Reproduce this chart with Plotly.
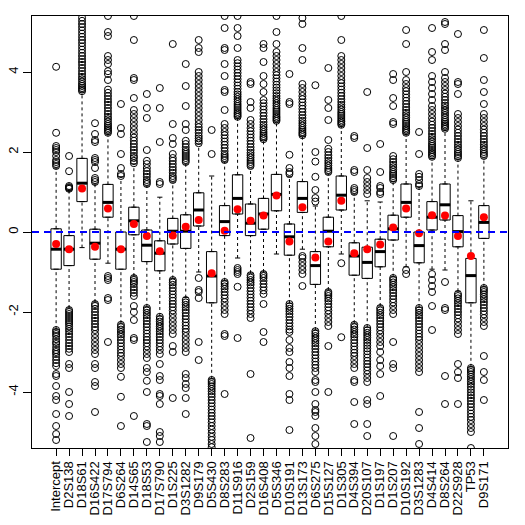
import plotly.graph_objects as go

markers = ["Intercept", "D2S138", "D18S61", "D16S422", "D17S794", "D6S264", "D14S65",
           "D18S53", "D17S790", "D1S225", "D3S1282", "D9S179", "D5S430", "D8S283",
           "D11S916", "D2S159", "D16S408", "D5S346", "D10S191", "D13S173", "D6S275",
           "D15S127", "D1S305", "D4S394", "D20S107", "D1S197", "D1S207", "D10S192",
           "D3S1283", "D4S414", "D8S264", "D22S928", "TP53", "D9S171"]

q1 = [-0.93, -0.84, 0.76, -0.68, 0.37, -0.93, -0.07, -0.74, -0.97, -0.30, -0.41, 0.15,
      -1.77, -0.09, 0.45, -0.09, 0.07, 0.53, -0.58, 0.49, -1.31, -0.37, 0.55, -1.08,
      -1.16, -0.87, -0.20, 0.37, -0.77, 0.05, 0.30, -0.37, -1.77, -0.16]
median = [-0.43, -0.43, 1.22, -0.28, 0.74, -0.43, 0.28, -0.33, -0.53, 0.02, 0.02, 0.55,
          -1.10, 0.26, 0.84, 0.22, 0.45, 0.94, -0.12, 0.84, -0.84, 0.02, 0.92, -0.60,
          -0.76, -0.49, 0.08, 0.74, -0.34, 0.37, 0.68, 0.01, -1.09, 0.24]
q3 = [0.08, -0.09, 1.84, 0.07, 1.19, 0.00, 0.62, 0.05, -0.22, 0.34, 0.43, 0.98,
      -0.49, 0.66, 1.43, 0.70, 0.84, 1.44, 0.20, 1.26, -0.49, 0.37, 1.40, -0.27,
      -0.38, -0.18, 0.42, 1.20, 0.00, 0.76, 1.20, 0.41, -0.66, 0.66]
whisker_lo = [-2.43, -1.90, -0.39, -1.75, -0.78, -2.28, -1.10, -1.87, -2.10, -1.16, -1.64, -1.00,
              -3.67, -1.22, -0.65, -1.03, -1.00, -0.55, -1.78, -0.43, -2.45, -1.45, -0.55, -2.28,
              -2.38, -1.85, -1.12, -0.87, -1.88, -0.93, -0.95, -1.48, -3.37, -1.37]
whisker_hi = [1.60, 1.05, 3.50, 1.20, 2.45, 1.38, 1.70, 1.15, 0.87, 1.25, 1.70, 2.20,
              1.40, 1.75, 2.85, 1.60, 2.30, 2.75, 1.38, 2.40, 0.65, 1.45, 2.65, 0.95,
              0.78, 0.75, 1.26, 2.45, 1.13, 1.84, 2.55, 1.82, 0.78, 1.85]
means = [-0.30, -0.43, 1.09, -0.37, 0.59, -0.43, 0.20, -0.10, -0.48, -0.09, 0.13, 0.30,
         -1.03, 0.03, 0.57, 0.28, 0.41, 0.91, -0.24, 0.62, -0.64, -0.24, 0.78, -0.53,
         -0.43, -0.31, 0.11, 0.59, -0.03, 0.42, 0.41, -0.10, -0.60, 0.37]

outliers_hi = [
    [1.65, 1.7, 1.75, 1.8, 1.9, 2.0, 2.05, 2.1, 2.15, 2.48, 4.13],
    [1.08, 1.1, 1.12, 1.15, 1.52, 1.9],
    [3.52, 3.56, 3.6, 3.65, 3.7, 3.76, 3.82, 3.88, 3.95, 4.02, 4.1, 4.18, 4.25, 4.32, 4.4,
     4.48, 4.56, 4.64, 4.72, 4.8, 4.88, 4.96, 5.04, 5.12, 5.2, 5.28, 5.36],
    [1.25, 1.3, 1.35, 1.6, 1.75, 1.8, 1.85, 2.25, 2.3, 2.45, 2.72],
    [2.48, 2.52, 2.56, 2.6, 2.65, 2.7, 2.76, 2.82, 2.88, 2.95, 3.02, 3.1, 3.18, 3.25, 3.32,
     3.4, 3.48, 3.56, 3.8, 3.95, 4.02, 4.2, 4.3, 4.4, 4.9, 5.0, 5.4],
    [1.4, 1.45, 1.6, 1.95, 2.45, 2.6, 3.2],
    [1.72, 1.78, 1.85, 1.9, 1.98, 2.05, 2.12, 2.2, 2.28, 2.36, 2.45, 2.55, 2.65, 2.75, 2.85,
     2.95, 3.05, 3.35, 3.8, 3.85, 4.8, 5.4],
    [1.2, 1.25, 1.3, 1.38, 1.45, 1.52, 1.6, 1.7, 1.78, 2.05, 2.85, 3.1, 3.45],
    [1.2, 1.25, 2.25, 3.1, 3.6],
    [1.3, 1.35, 1.4, 1.48, 1.55, 1.62, 1.7, 1.78, 1.85, 1.95, 2.2, 2.35, 2.7, 4.7],
    [1.75, 1.8, 1.85, 1.9, 1.95, 2.0, 2.05, 2.12, 2.2, 2.28, 2.55, 2.7, 3.15, 3.65, 4.2],
    [2.22, 2.28, 2.34, 2.4, 2.48, 2.55, 2.62, 2.7, 2.8, 2.9, 3.0, 3.1, 3.2, 3.3, 3.4, 3.5,
     3.6, 3.7, 3.8, 3.9, 4.0, 4.5, 4.6, 4.8],
    [1.95, 2.55],
    [1.8, 1.85, 1.9, 1.95, 2.02, 2.1, 2.18, 2.26, 2.34, 2.42, 2.5, 2.6, 2.7, 3.05, 3.5,
     3.55, 3.9, 4.2, 4.55, 4.6, 5.1, 5.4],
    [2.88, 2.92, 2.96, 3.0, 3.05, 3.1, 3.15, 3.2, 3.26, 3.32, 3.38, 3.44, 3.5, 3.58, 3.66,
     3.74, 3.82, 3.9, 3.98, 4.06, 4.14, 4.22, 4.3, 4.6, 4.9, 5.1, 5.4],
    [1.65, 1.7, 1.75, 1.8, 1.86, 1.92, 1.98, 2.05, 2.12, 2.2, 2.28, 2.36, 2.44, 2.52, 2.6,
     2.7, 2.8, 3.1, 3.25, 3.7, 3.75],
    [2.32, 2.36, 2.4, 2.45, 2.5, 2.56, 2.62, 2.68, 2.75, 2.82, 2.9, 2.98, 3.06, 3.14, 3.22,
     3.3, 3.5, 3.7, 3.9, 4.25, 4.6, 4.7],
    [2.78, 2.82, 2.86, 2.9, 2.95, 3.0, 3.05, 3.1, 3.16, 3.22, 3.28, 3.34, 3.4, 3.47, 3.54,
     3.61, 3.68, 3.76, 3.84, 3.92, 4.0, 4.1, 4.2, 4.3, 4.4, 4.5, 4.7, 5.0, 5.4],
    [1.45, 1.5, 1.6, 1.93, 3.2, 3.25, 3.95],
    [2.42, 2.46, 2.5, 2.55, 2.6, 2.66, 2.72, 2.78, 2.85, 2.92, 3.0, 3.08, 3.16, 3.24, 3.32,
     3.4, 3.5, 3.6, 3.7, 4.3, 4.6, 5.2, 5.35],
    [0.76, 0.85, 1.05, 1.38, 1.76, 2.0, 3.67],
    [1.5, 1.55, 1.6, 1.66, 1.72, 1.78, 1.85, 1.92, 2.0, 2.08, 2.3, 2.8, 3.1, 3.3, 4.1],
    [2.68, 2.72, 2.76, 2.8, 2.85, 2.9, 2.95, 3.0, 3.06, 3.12, 3.18, 3.25, 3.32, 3.4, 3.48,
     3.56, 3.64, 3.72, 3.8, 3.9, 4.0, 4.1, 4.2, 4.3, 4.4, 4.8, 5.4],
    [1.0, 1.05, 1.1, 1.5, 1.55, 2.35, 2.4],
    [0.95, 1.05, 1.15, 1.25, 1.35, 1.55, 2.1, 3.5],
    [0.95, 1.0, 1.1, 1.15, 1.5, 2.2],
    [1.3, 1.35, 1.4, 1.45, 1.5, 1.56, 1.62, 1.68, 1.75, 1.82, 1.9, 2.7, 2.75, 3.15, 3.35,
     3.8, 3.95],
    [2.48, 2.52, 2.56, 2.6, 2.65, 2.7, 2.75, 2.8, 2.86, 2.92, 2.98, 3.05, 3.12, 3.2, 3.28,
     3.36, 3.44, 3.52, 3.6, 3.7, 3.8, 4.0, 4.7, 5.05],
    [1.15, 1.2, 1.3, 1.38, 1.45, 1.95, 2.5],
    [1.88, 1.92, 1.96, 2.0, 2.05, 2.1, 2.15, 2.2, 2.26, 2.32, 2.38, 2.45, 2.52, 2.6, 2.68,
     2.76, 2.85, 2.95, 3.05, 3.15, 3.3, 3.45, 3.6, 3.75, 3.9, 4.3, 4.5, 5.1],
    [2.58, 2.62, 2.66, 2.7, 2.75, 2.8, 2.86, 2.92, 2.98, 3.04, 3.1, 3.16, 3.22, 3.3, 3.38,
     3.46, 3.55, 3.65, 3.75, 3.85, 4.0, 4.55, 4.7, 5.2, 5.25],
    [1.85, 1.9, 1.95, 2.0, 2.06, 2.12, 2.18, 2.25, 2.32, 2.4, 2.48, 2.56, 2.65, 2.75, 2.85,
     2.95, 3.45, 3.7, 3.75, 4.95],
    [],
    [1.9, 1.95, 2.0, 2.06, 2.12, 2.18, 2.25, 2.32, 2.4, 2.48, 2.56, 2.65, 2.75, 2.85, 2.95,
     3.2, 3.5, 3.8, 4.35, 5.05],
]

outliers_lo = [
    [-2.45, -2.5, -2.55, -2.6, -2.68, -2.75, -2.8, -2.88, -2.95, -3.0, -3.05, -3.12, -3.2,
     -3.28, -3.35, -3.55, -3.6, -3.85, -4.1, -4.2, -4.55, -4.85, -5.05, -5.2],
    [-1.95, -2.0, -2.05, -2.1, -2.15, -2.2, -2.25, -2.3, -2.36, -2.42, -2.48, -2.55, -2.62,
     -2.7, -2.78, -2.85, -2.92, -3.0, -3.3, -3.4, -4.0, -4.3, -4.6],
    [],
    [-1.8, -1.85, -1.92, -2.0, -2.08, -2.15, -2.22, -2.3, -2.38, -2.45, -2.55, -2.65, -2.75,
     -2.85, -2.95, -3.05, -3.3, -3.4, -3.75, -3.85, -4.5],
    [-1.1, -1.15, -1.2, -1.65, -1.7, -2.75],
    [-2.32, -2.38, -2.44, -2.5, -2.56, -2.62, -2.7, -2.78, -2.86, -2.94, -3.02, -3.1, -3.2,
     -3.3, -3.4, -3.62, -4.12, -4.85],
    [-1.15, -1.2, -1.25, -1.3, -1.38, -1.45, -1.52, -1.6, -1.85, -2.0, -2.2, -2.65, -2.7, -4.6],
    [-1.9, -1.96, -2.02, -2.08, -2.15, -2.22, -2.3, -2.38, -2.46, -2.54, -2.62, -2.7, -2.78,
     -2.86, -2.95, -3.05, -3.15, -3.4, -3.5, -3.72, -4.0, -4.8, -4.85, -5.25],
    [-2.12, -2.18, -2.24, -2.3, -2.36, -2.42, -2.48, -2.55, -2.62, -2.7, -2.78, -2.86, -2.95,
     -3.05, -3.3, -3.6, -3.7, -4.05, -4.1, -4.3, -5.0, -5.1, -5.25],
    [-1.2, -1.26, -1.32, -1.4, -1.48, -1.56, -1.64, -1.72, -1.8, -1.88, -1.96, -2.05, -2.15,
     -2.25, -2.35, -2.45, -2.55, -2.85, -3.0, -4.15],
    [-1.7, -1.76, -1.82, -1.88, -1.95, -2.02, -2.1, -2.18, -2.26, -2.34, -2.42, -2.5, -2.6,
     -2.7, -2.8, -2.9, -3.0, -3.55, -3.65, -3.8, -3.9, -4.15, -4.55],
    [-1.15, -1.45, -1.5, -1.65, -2.75, -3.2],
    [-3.7, -3.75, -3.8, -3.86, -3.92, -3.98, -4.05, -4.12, -4.2, -4.28, -4.36, -4.44, -4.52,
     -4.6, -4.68, -4.76, -4.85, -4.94, -5.03, -5.12, -5.2, -5.3, -5.38],
    [-1.25, -1.3, -1.36, -1.42, -1.5, -1.58, -1.66, -1.75, -1.85, -1.95, -2.05, -2.55, -2.6, -4.05],
    [-0.9, -0.95, -1.0, -1.05, -1.37, -2.65],
    [-1.08, -1.14, -1.2, -1.26, -1.32, -1.4, -1.48, -1.56, -1.64, -1.72, -1.8, -1.88, -1.96,
     -2.05, -2.15, -3.55, -5.15],
    [-1.05, -1.1, -1.15, -1.22, -1.3, -1.38, -1.46, -1.55, -1.8, -2.5, -2.75],
    [],
    [-1.8, -1.86, -1.92, -1.98, -2.05, -2.12, -2.2, -2.28, -2.36, -2.44, -2.5, -2.7, -2.9,
     -3.0, -3.25, -3.4, -3.6, -4.05, -4.2, -4.95],
    [-0.6, -0.65, -0.75, -0.85, -0.95, -1.05, -1.35],
    [-2.48, -2.54, -2.6, -2.66, -2.72, -2.78, -2.85, -2.92, -3.0, -3.08, -3.16, -3.24, -3.32,
     -3.4, -3.5, -3.7, -3.75, -4.0, -4.3, -4.45, -4.5, -4.6, -4.9, -5.1, -5.3],
    [-1.5, -1.55, -1.6, -1.66, -1.72, -1.8, -1.88, -1.96, -2.05, -2.15, -2.25, -2.35, -2.85, -4.0],
    [-0.78, -2.63],
    [-2.32, -2.38, -2.44, -2.5, -2.56, -2.62, -2.7, -2.78, -2.86, -2.94, -3.02, -3.1, -3.2,
     -3.3, -3.4, -3.7, -3.75, -4.25, -4.8],
    [-2.4, -2.46, -2.52, -2.58, -2.64, -2.7, -2.77, -2.84, -2.91, -2.98, -3.06, -3.14, -3.22,
     -3.3, -3.38, -3.46, -3.55, -3.65, -3.75, -4.2, -4.3, -4.8, -5.1],
    [-1.9, -1.96, -2.02, -2.08, -2.15, -2.22, -2.3, -2.38, -2.46, -2.55, -2.65, -2.75, -2.85,
     -3.0, -3.2, -3.35, -3.55, -4.1],
    [-1.15, -1.2, -1.26, -1.32, -1.38, -1.45, -1.52, -1.6, -1.68, -1.76, -1.85, -1.95, -2.05,
     -2.75, -3.3, -3.4, -5.1],
    [-0.95, -1.05],
    [-1.9, -1.96, -2.02, -2.08, -2.15, -2.22, -2.3, -2.38, -2.46, -2.54, -2.62, -2.7, -2.8,
     -2.9, -3.0, -3.1, -3.2, -3.3, -3.4, -3.5, -4.5, -4.9, -5.3],
    [-1.05, -1.2, -1.35, -1.5, -1.85, -2.45],
    [-1.25, -1.9, -1.95, -3.6, -4.3],
    [-1.55, -1.6, -1.66, -1.72, -1.78, -1.85, -1.92, -2.0, -2.08, -2.16, -2.25, -2.35, -2.45,
     -2.55, -3.3, -3.5, -3.65, -4.3],
    [-3.4, -3.45, -3.5, -3.56, -3.62, -3.68, -3.74, -3.8, -3.87, -3.94, -4.01, -4.08, -4.15,
     -4.22, -4.3, -4.38, -4.46, -4.54, -4.62, -4.7, -4.8, -4.9, -5.0, -5.4],
    [-1.4, -1.45, -1.5, -1.56, -1.62, -1.68, -1.75, -1.82, -1.9, -1.98, -2.06, -2.15, -2.25,
     -2.35, -3.1, -3.5, -3.7, -4.2],
]

y_ticks = [-4, -2, 0, 2, 4]

pos = list(range(1, len(markers) + 1))
half = 0.4      # demi-largeur de boîte (boxwex 0.8)
staple = 0.2    # demi-largeur des moustaches terminales
FONT = "Liberation Sans, Arial, sans-serif"

fig = go.Figure()

# points aberrants (cercles vides)
ox, oy = [], []
for p, hi, lo in zip(pos, outliers_hi, outliers_lo):
    for v in hi + lo:
        ox.append(p)
        oy.append(v)
fig.add_trace(go.Scatter(
    x=ox, y=oy, mode="markers",
    marker=dict(symbol="circle-open", size=7, color="black", line=dict(width=1)),
    hoverinfo="skip",
))

# moustaches en pointillés + barres terminales
wx, wy, sx, sy = [], [], [], []
for p, lo, a, b, hi in zip(pos, whisker_lo, q1, q3, whisker_hi):
    wx += [p, p, None, p, p, None]
    wy += [lo, a, None, b, hi, None]
    sx += [p - staple, p + staple, None, p - staple, p + staple, None]
    sy += [lo, lo, None, hi, hi, None]
fig.add_trace(go.Scatter(x=wx, y=wy, mode="lines",
                         line=dict(color="black", width=1, dash="3px,3px"),
                         hoverinfo="skip"))
fig.add_trace(go.Scatter(x=sx, y=sy, mode="lines",
                         line=dict(color="black", width=1), hoverinfo="skip"))

# boîtes
fig.add_trace(go.Box(
    x=pos, q1=q1, median=median, q3=q3, lowerfence=q1, upperfence=q3,
    width=2 * half, boxpoints=False,
    fillcolor="rgba(0,0,0,0)", line=dict(color="black", width=1),
))

# médianes épaisses
mx, my = [], []
for p, m in zip(pos, median):
    mx += [p - half, p + half, None]
    my += [m, m, None]
fig.add_trace(go.Scatter(x=mx, y=my, mode="lines",
                         line=dict(color="black", width=3), hoverinfo="skip"))

# moyennes
fig.add_trace(go.Scatter(x=pos, y=means, mode="markers",
                         marker=dict(color="red", size=8)))

fig.add_hline(y=0, line=dict(color="blue", width=2, dash="7px,5px"))

fig.update_layout(
    width=525, height=525,
    margin=dict(l=32, r=17, t=16, b=77, autoexpand=False),
    paper_bgcolor="white", plot_bgcolor="white",
    showlegend=False,
    font=dict(family=FONT, size=13, color="black"),
)
fig.update_xaxes(
    range=[-0.86, 35.86], tickvals=pos, ticktext=markers, tickangle=-90,
    ticks="outside", ticklen=7, tickcolor="black", automargin=False,
    showline=True, mirror=True, linecolor="black", linewidth=1,
    showgrid=False, zeroline=False,
)
fig.update_yaxes(
    range=[-5.4, 5.4], tickvals=y_ticks, ticktext=[str(t) for t in y_ticks],
    tickangle=-90, ticks="outside", ticklen=8, tickcolor="black", automargin=False,
    showline=True, mirror=True, linecolor="black", linewidth=1,
    showgrid=False, zeroline=False,
)

# la page HTML ajoute 8 px de marge au <body> : on la supprime
fig.write_html("out.html", config={"displayModeBar": False},
               post_script="document.body.style.margin='0';")
